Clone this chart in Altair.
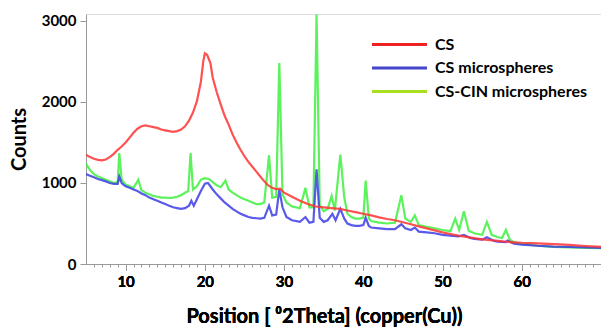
import altair as alt
import pandas as pd

# ---- data (2theta in degrees, counts) ----
cs_x = [5, 5.5, 6, 6.5, 7, 7.5, 8, 8.5, 9, 9.5, 10, 10.5, 11, 11.5, 12, 12.5, 13, 13.5, 14, 14.5,
        15, 15.5, 16, 16.5, 17, 17.5, 18, 18.5, 19, 19.5, 19.8, 20, 20.3, 20.7, 21, 21.5, 22, 22.5,
        23, 23.5, 24, 24.5, 25, 25.5, 26, 26.5, 27, 27.5, 28, 28.5, 29, 29.5, 30, 31, 32, 33, 34,
        35, 36, 37, 38, 39, 40, 41, 42, 43, 44, 45, 46, 47, 48, 49, 50, 51, 52, 53, 54, 55, 56, 57,
        58, 59, 60, 62, 64, 66, 68, 70]
cs_y = [1350, 1320, 1300, 1285, 1280, 1290, 1320, 1360, 1410, 1450, 1500, 1560, 1620, 1670, 1700,
        1710, 1700, 1690, 1680, 1660, 1650, 1640, 1630, 1640, 1660, 1700, 1770, 1870, 2010, 2250,
        2500, 2600, 2580, 2480, 2300, 2120, 1970, 1830, 1720, 1600, 1500, 1410, 1330, 1260, 1200,
        1140, 1080, 1020, 970, 940, 925, 930, 880, 830, 780, 740, 710, 700, 690, 680, 660, 640, 620,
        600, 575, 555, 540, 515, 490, 465, 440, 415, 390, 370, 350, 335, 320, 305, 295, 285, 275,
        268, 262, 255, 245, 235, 222, 212]

csm_x = [5, 5.5, 6, 6.5, 7, 7.5, 8, 8.5, 9, 9.2, 9.5, 10, 10.5, 11, 11.5, 12, 12.5, 13, 13.5, 14,
         14.5, 15, 15.5, 16, 16.5, 17, 17.5, 18, 18.3, 18.6, 19, 19.5, 20, 20.4, 21, 21.5, 22, 22.5,
         23, 23.5, 24, 24.5, 25, 25.5, 26, 26.5, 27, 27.5, 28.1, 28.5, 29, 29.4, 29.8, 30.3, 31, 32,
         32.7, 33.2, 33.7, 34.1, 34.5, 35, 35.5, 36.1, 36.5, 37.1, 37.6, 38, 38.5, 39, 39.5, 40,
         40.3, 40.7, 41, 42, 43, 44, 44.8, 45.3, 46, 46.5, 47, 48, 49, 50, 51, 52, 52.7, 53.5, 54,
         55, 55.6, 56.5, 57, 58, 58.2, 59, 60, 62, 64, 66, 68, 70]
csm_y = [1110, 1090, 1070, 1050, 1035, 1020, 1000, 990, 990, 1080, 1000, 960, 940, 920, 900, 870,
         850, 820, 800, 780, 760, 740, 720, 700, 690, 680, 690, 720, 780, 720, 800, 900, 990, 1000,
         920, 860, 810, 760, 720, 680, 650, 620, 600, 580, 570, 565, 560, 570, 720, 600, 610, 920,
         700, 580, 540, 520, 580, 510, 520, 1170, 570, 520, 540, 620, 540, 680, 560, 500, 480, 470,
         470, 480, 570, 470, 450, 440, 430, 430, 490, 440, 420, 450, 400, 390, 380, 360, 350, 340,
         360, 320, 310, 300, 330, 285, 275, 270, 290, 250, 240, 225, 215, 210, 205, 200]

cin_x = [5, 5.5, 6, 6.5, 7, 7.5, 8, 8.5, 9, 9.2, 9.5, 10, 10.5, 11, 11.6, 12, 12.5, 13, 13.5, 14,
         14.5, 15, 15.5, 16, 16.5, 17, 17.5, 17.9, 18.2, 18.5, 19, 19.5, 20, 20.5, 21, 21.5, 22,
         22.6, 23, 23.5, 24, 24.5, 25, 25.5, 26, 26.5, 27, 27.5, 28.1, 28.5, 29, 29.4, 29.8, 30.3,
         31, 32, 32.7, 33.2, 33.7, 34.1, 34.5, 35, 35.5, 36, 36.4, 37.1, 37.6, 38, 38.5, 39, 39.5,
         40, 40.3, 40.7, 41, 42, 43, 44, 44.8, 45.3, 46, 46.5, 47, 48, 49, 50, 51, 51.6, 52.1, 52.7,
         53.3, 54, 55, 55.6, 56.2, 57, 57.5, 58, 58.5, 59, 60, 62, 64, 66, 68, 70]
cin_y = [1240, 1160, 1110, 1080, 1060, 1040, 1020, 1000, 1010, 1370, 1040, 980, 960, 940, 1040, 910,
         880, 860, 840, 830, 820, 820, 815, 820, 830, 850, 880, 900, 1370, 920, 960, 1040, 1060,
         1050, 1010, 970, 950, 1030, 920, 880, 850, 820, 800, 780, 760, 740, 740, 760, 1340, 820,
         830, 2480, 860, 760, 710, 690, 940, 700, 700, 3080, 730, 650, 680, 840, 660, 1350, 820,
         620, 580, 560, 560, 570, 1030, 560, 530, 510, 500, 510, 850, 560, 520, 600, 480, 460, 440,
         420, 405, 560, 420, 650, 410, 380, 360, 520, 360, 330, 320, 420, 300, 270, 250, 225, 210,
         205, 200, 195]

series_names = ["CS", "CS microspheres", "CS-CIN microspheres"]
line_colors = ["#ff3333", "#3c3ce6", "#40f040"]
legend_colors = ["#ee2222", "#4444cc", "#a8e020"]
major_ticks = [10, 20, 30, 40, 50, 60]
minor_ticks = [v for v in range(6, 70) if v % 10 != 0]
y_ticks = [0, 1000, 2000, 3000]

frames = []
for name, xs, ys in zip(series_names, [cs_x, csm_x, cin_x], [cs_y, csm_y, cin_y]):
    frames.append(pd.DataFrame({"pos": xs, "counts": ys, "series": name}))
df = pd.concat(frames, ignore_index=True)

FONT = "Lato"
xdom = [5, 70]
ydom = [0, 3086]

y_enc = alt.Y("counts:Q", scale=alt.Scale(domain=ydom, nice=False),
              axis=alt.Axis(values=y_ticks, format="d", title="Counts", grid=False, tickSize=6,
                            labelFontSize=15, labelFontWeight="bold", labelPadding=4,
                            titleFontSize=20, titleFontWeight="bold", titlePadding=12,
                            domainColor="#999999", tickColor="#999999",
                            labelColor="black", titleColor="black"))

x_main = alt.X("pos:Q", scale=alt.Scale(domain=xdom, nice=False, zero=False),
               axis=alt.Axis(values=major_ticks, format="d",
                             title="Position [ ⁰2Theta] (copper(Cu))",
                             orient="bottom", grid=False, tickSize=6, labelFontSize=15,
                             labelFontWeight="bold", labelPadding=4, titleFontSize=20,
                             titleFontWeight="bold", titlePadding=17, titleX=238,
                             domainColor="#999999", tickColor="#999999",
                             labelColor="black", titleColor="black"))

layers = []
order = [2, 1, 0]
for i in order:
    name = series_names[i]
    layers.append(
        alt.Chart(df[df.series == name]).mark_line(color=line_colors[i], strokeWidth=2.2,
                                                   opacity=0.85, clip=True)
        .encode(x=x_main, y=y_enc)
    )

x_minor = alt.X("pos:Q", scale=alt.Scale(domain=xdom, nice=False, zero=False),
                axis=alt.Axis(values=minor_ticks, title=None, labels=False, domain=False,
                              orient="bottom", grid=False, tickSize=3, tickColor="#999999"))

legend_layer = alt.Chart(df).mark_point(opacity=0).encode(
    x=x_minor,
    y=y_enc,
    color=alt.Color("series:N",
                    scale=alt.Scale(domain=series_names, range=legend_colors),
                    legend=alt.Legend(title=None, orient="none", legendX=302, legendY=19,
                                      symbolType="M-2.75,0H2.75", symbolSize=400,
                                      symbolStrokeWidth=3, symbolOpacity=1,
                                      labelFontSize=16, labelFontWeight="bold",
                                      labelColor="black", labelOffset=24, rowPadding=3.5,
                                      padding=0)),
)

chart = (
    alt.layer(*layers, legend_layer)
    .resolve_scale(x="independent")
    .resolve_axis(x="independent")
    .properties(width=515, height=250,
                padding={"left": 86, "top": 14, "right": 0, "bottom": 65},
                autosize=alt.AutoSizeParams(type="none"))
    .configure_view(stroke="#aaaaaa", strokeWidth=1)
    .configure(font=FONT, background="white")
)

chart.save("out.html", embed_options={"renderer": "svg", "actions": False})
